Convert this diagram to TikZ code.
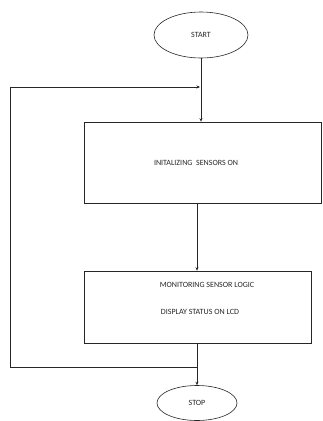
\documentclass[tikz,border=0pt]{standalone}
\usepackage{fontspec}
\setmainfont{Carlito}
\usetikzlibrary{arrows.meta, positioning, shapes.geometric}

\tikzset{
    term/.style={draw=black!85, line width=0.6pt, ellipse, inner sep=0pt},
    procbox/.style={draw=black!85, line width=0.6pt, rectangle, inner sep=0pt, align=center},
    flow/.style={black!85, line width=0.6pt, -{Stealth[length=3.5pt, width=3pt]}},
    lbl/.style={font=\fontsize{8}{10}\selectfont, text=black!85}
}

\begin{document}
\begin{tikzpicture}[x=1pt, y=-1pt]
    \useasboundingbox (0,0) rectangle (323,421);
    % terminals
    \node[term, minimum width=94pt, minimum height=46pt] (start) at (201,35) {};
    \node[lbl] at (start) {START};
    \node[term, minimum width=80pt, minimum height=35pt] (stop) at (197,403) {};
    \node[lbl] at (stop) {STOP};
    % process boxes
    \node[procbox, minimum width=237pt, minimum height=81pt] (init) at (202.5,162.5) {};
    \node[lbl] at (196,163) {INITALIZING\ \ SENSORS ON};
    \node[procbox, minimum width=227pt, minimum height=72pt] (monitor) at (197.5,307) {};
    \node[lbl] at (207,285) {MONITORING SENSOR LOGIC};
    \node[lbl] at (200,312) {DISPLAY STATUS ON LCD};
    % loop corners
    \coordinate (join) at (200,87);
    \coordinate (back) at (197,367);
    \coordinate (leftbot) at (10,367);
    \coordinate (lefttop) at (10,87);
    % connectors
    \draw[flow] (start.south) -- (start.south |- init.north);
    \draw[flow] (back |- init.south) -- (back |- monitor.north);
    \draw[flow] (back |- monitor.south) -- (back |- stop.north);
    \draw[flow] (back) -- (leftbot) -- (lefttop) -- (join);
\end{tikzpicture}
\end{document}
